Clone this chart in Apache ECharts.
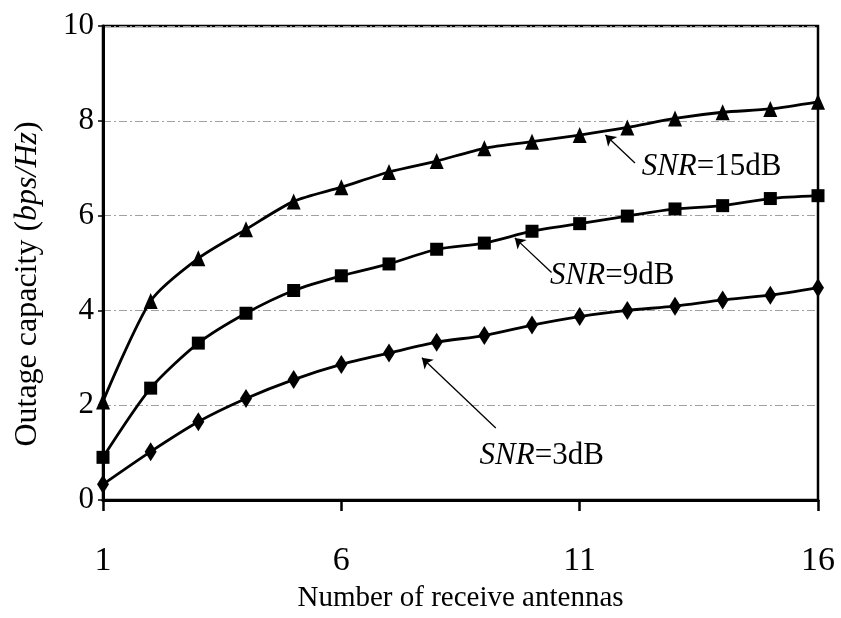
<!DOCTYPE html>
<html>
<head>
<meta charset="utf-8">
<script src="https://cdn.jsdelivr.net/npm/echarts@6/dist/echarts.min.js"></script>
<style>html,body{margin:0;padding:0;background:#fff}#c{width:841px;height:618px}</style>
</head>
<body>
<div id="c"></div>
<script>
var antennas = [1,2,3,4,5,6,7,8,9,10,11,12,13,14,15,16];
var snr15 = [2.08,4.2,5.1,5.71,6.3,6.6,6.92,7.15,7.42,7.56,7.7,7.86,8.05,8.18,8.25,8.4];
var snr9  = [0.9,2.36,3.31,3.94,4.42,4.73,4.98,5.29,5.42,5.67,5.83,5.99,6.14,6.21,6.36,6.42];
var snr3  = [0.33,1.02,1.65,2.14,2.54,2.86,3.1,3.33,3.47,3.69,3.87,4.0,4.09,4.22,4.32,4.48];
var xTicks = [1,6,11,16];
var yTicks = [0,2,4,6,8,10];
// annotation anchors: arrow head, arrow tail, text position (data coordinates)
var ann15 = {head:[11.54,7.7], tail:[12.16,7.11], text:[12.3,7.03], label:'15dB'};
var ann9  = {head:[9.64,5.53],  tail:[10.41,4.8], text:[10.38,4.72], label:'9dB'};
var ann3  = {head:[7.69,3.0],  tail:[9.24,1.52], text:[8.9,0.94], label:'3dB'};

function pairs(xs, ys){ return xs.map(function(x,i){return [x, ys[i]];}); }
var FONT = '"Liberation Serif","DejaVu Serif",serif';

function annotate(a){
  return {
    markLine: {
      silent: true,
      symbol: ['none','arrow'],
      symbolSize: 10,
      lineStyle: {color:'#000', width:1.3, type:'solid'},
      itemStyle: {color:'#000'},
      label: {show:false},
      z: 5,
      data: [[{coord:a.tail}, {coord:a.head}]]
    },
    markPoint: {
      silent: true,
      symbol: 'circle', symbolSize: 0,
      label: {
        show: true, position: 'right', distance: 0,
        formatter: '{i|SNR}{n|=' + a.label + '}',
        rich: {
          i: {fontFamily: FONT, fontStyle:'italic', fontSize: 31, color:'#000'},
          n: {fontFamily: FONT, fontSize: 31, color:'#000'}
        }
      },
      data: [{coord: a.text}]
    }
  };
}

function mkSeries(data, symbol, size, a){
  var s = {
    type: 'line',
    data: pairs(antennas, data),
    smooth: 0.25,
    symbol: symbol,
    symbolSize: size,
    showAllSymbol: true,
    lineStyle: {color:'#000', width:2.8},
    itemStyle: {color:'#000'},
    z: 3
  };
  var an = annotate(a);
  s.markLine = an.markLine; s.markPoint = an.markPoint;
  return s;
}

var chart = echarts.init(document.getElementById('c'), null, {renderer:'canvas'});
chart.setOption({
  animation: false,
  backgroundColor: '#fff',
  grid: {left:103, right:23, top:26, bottom:116, show:true, borderColor:'#000', borderWidth:2.5, backgroundColor:'transparent'},
  xAxis: {
    type: 'value', min: 1, max: 16, interval: 5,
    name: 'Number of receive antennas', nameLocation: 'middle', nameGap: 84,
    nameTextStyle: {fontFamily: FONT, fontSize: 29, color:'#000'},
    axisLine: {onZero:false, lineStyle:{color:'#000', width:3}},
    axisTick: {show:true, inside:false, length:11, lineStyle:{color:'#000', width:2.5}},
    axisLabel: {margin: 44, fontFamily: FONT, fontSize: 34, color:'#000',
      formatter: function(v){ return xTicks.indexOf(v) >= 0 ? String(v) : ''; }},
    splitLine: {show:false}
  },
  yAxis: {
    type: 'value', min: 0, max: 10, interval: 2,
    name: '{n|Outage capacity (}{i|bps/Hz}{n|)}', nameLocation: 'middle', nameGap: 59,
    nameRotate: 90,
    nameTextStyle: {
      fontFamily: FONT, fontSize: 32, color:'#000',
      padding: [0, 42, 0, 0],
      rich: {
        n: {fontFamily: FONT, fontSize: 32, color:'#000'},
        i: {fontFamily: FONT, fontSize: 32, fontStyle:'italic', color:'#000'}
      }
    },
    axisLine: {show:true, lineStyle:{color:'#000', width:3}},
    axisTick: {show:true, inside:false, length:5, lineStyle:{color:'#000', width:1.5}},
    axisLabel: {margin: 9, fontFamily: FONT, fontSize: 31, color:'#000',
      formatter: function(v){ return yTicks.indexOf(v) >= 0 ? String(v) : ''; }},
    splitLine: {show:true, lineStyle:{color:'#a0a0a0', width:1, type:[8,3,2,3]}}
  },
  series: [
    mkSeries(snr15, 'triangle', [14,16], ann15),
    mkSeries(snr9, 'rect', [13,13], ann9),
    mkSeries(snr3, 'diamond', [12,19], ann3)
  ]
});
</script>
</body>
</html>
